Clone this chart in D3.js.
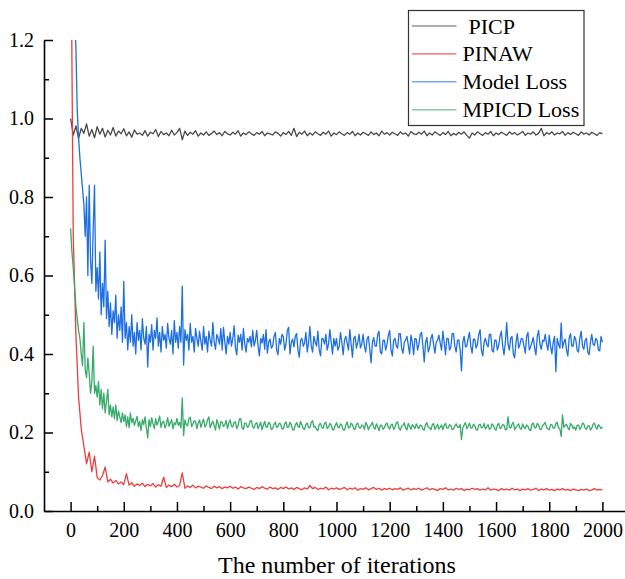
<!DOCTYPE html>
<html lang="en">
  <head>
    <meta charset="utf-8">
    <title>Training curves</title>
    <style>
      body { margin: 0; background: #fff; }
      svg text { font-family: "Liberation Serif", "Times New Roman", serif; }
    </style>
  </head>

  <body>
  <script src="https://d3js.org/d3.v7.min.js"></script>
  <div id="chart"></div>

  <script>

  // PICP and PINAW sampled every 10 iterations, the two losses every 5
  var picpStep = 10, pinawStep = 10, modelStep = 5, mpicdStep = 5;

  var picp = [
    1.000, 0.958, 0.981, 0.949, 0.975, 0.962, 0.986, 0.955, 0.972, 0.951,
    0.979, 0.960, 0.975, 0.953, 0.970, 0.958, 0.977, 0.955, 0.968, 0.961,
    0.974, 0.956, 0.966, 0.952, 0.971, 0.960, 0.963, 0.957, 0.969, 0.955,
    0.965, 0.961, 0.972, 0.954, 0.967, 0.959, 0.963, 0.956, 0.970, 0.958,
    0.964, 0.975, 0.946, 0.968, 0.957, 0.965, 0.960, 0.969, 0.955, 0.963,
    0.958, 0.966, 0.957, 0.962, 0.968, 0.959, 0.964, 0.956, 0.967, 0.961,
    0.958, 0.965, 0.960, 0.969, 0.955, 0.963, 0.959, 0.966, 0.961, 0.957,
    0.964, 0.960, 0.967, 0.956, 0.963, 0.961, 0.958, 0.966, 0.962, 0.955,
    0.964, 0.959, 0.967, 0.957, 0.975, 0.954, 0.965, 0.960, 0.968, 0.956,
    0.963, 0.958, 0.966, 0.961, 0.957, 0.965, 0.960, 0.968, 0.955, 0.963,
    0.959, 0.966, 0.961, 0.957, 0.964, 0.960, 0.967, 0.956, 0.963, 0.958,
    0.965, 0.961, 0.957, 0.966, 0.959, 0.963, 0.956, 0.968, 0.960, 0.964,
    0.958, 0.965, 0.961, 0.957, 0.966, 0.960, 0.963, 0.955, 0.967, 0.961,
    0.959, 0.965, 0.960, 0.968, 0.956, 0.963, 0.958, 0.966, 0.961, 0.957,
    0.964, 0.959, 0.967, 0.956, 0.962, 0.958, 0.965, 0.960, 0.966, 0.957,
    0.950, 0.963, 0.958, 0.966, 0.961, 0.957, 0.964, 0.960, 0.967, 0.956,
    0.963, 0.959, 0.965, 0.961, 0.957, 0.966, 0.960, 0.964, 0.958, 0.962,
    0.967, 0.957, 0.963, 0.960, 0.966, 0.958, 0.962, 0.975, 0.956, 0.964,
    0.960, 0.966, 0.958, 0.963, 0.961, 0.967, 0.957, 0.964, 0.959, 0.965,
    0.961, 0.957, 0.966, 0.960, 0.963, 0.958, 0.965, 0.961, 0.957, 0.964,
    0.961
  ];

  var pinaw = [
    1.600, 0.700, 0.450, 0.290, 0.210, 0.165, 0.120, 0.150, 0.100, 0.140,
    0.085, 0.079, 0.090, 0.112, 0.074, 0.081, 0.071, 0.078, 0.069, 0.074,
    0.067, 0.095, 0.066, 0.072, 0.063, 0.069, 0.065, 0.071, 0.062, 0.068,
    0.064, 0.070, 0.061, 0.067, 0.063, 0.086, 0.060, 0.066, 0.062, 0.068,
    0.061, 0.065, 0.097, 0.058, 0.064, 0.060, 0.066, 0.059, 0.063, 0.061,
    0.058, 0.064, 0.060, 0.057, 0.063, 0.059, 0.062, 0.057, 0.061, 0.059,
    0.063, 0.058, 0.061, 0.056, 0.062, 0.059, 0.057, 0.061, 0.058, 0.055,
    0.060, 0.057, 0.062, 0.058, 0.056, 0.061, 0.057, 0.059, 0.055, 0.060,
    0.057, 0.061, 0.056, 0.059, 0.055, 0.060, 0.057, 0.054, 0.059, 0.056,
    0.065, 0.057, 0.060, 0.055, 0.058, 0.056, 0.061, 0.054, 0.058, 0.056,
    0.059, 0.055, 0.057, 0.060, 0.054, 0.058, 0.056, 0.059, 0.053, 0.057,
    0.055, 0.059, 0.054, 0.057, 0.060, 0.055, 0.058, 0.053, 0.057, 0.055,
    0.058, 0.054, 0.057, 0.055, 0.059, 0.053, 0.056, 0.058, 0.054, 0.057,
    0.055, 0.058, 0.053, 0.056, 0.059, 0.054, 0.057, 0.055, 0.052, 0.057,
    0.055, 0.059, 0.054, 0.056, 0.053, 0.058, 0.055, 0.057, 0.052, 0.056,
    0.054, 0.058, 0.055, 0.057, 0.053, 0.056, 0.054, 0.059, 0.053, 0.056,
    0.055, 0.052, 0.057, 0.054, 0.056, 0.053, 0.058, 0.054, 0.056, 0.052,
    0.056, 0.054, 0.057, 0.053, 0.055, 0.058, 0.052, 0.056, 0.054, 0.057,
    0.053, 0.055, 0.052, 0.056, 0.054, 0.057, 0.053, 0.055, 0.052, 0.056,
    0.054, 0.052, 0.055, 0.053, 0.056, 0.052, 0.054, 0.057, 0.053, 0.055,
    0.054
  ];

  // one row = 100 iterations
  var modelLoss = [
    1.600, 1.450, 1.300, 1.250, 1.180, 1.020, 0.950, 0.900, 0.860, 0.820, 0.780, 0.700, 0.800, 0.600, 0.830, 0.640, 0.580, 0.720, 0.830, 0.560,
    0.620, 0.540, 0.660, 0.500, 0.580, 0.520, 0.690, 0.490, 0.560, 0.470, 0.530, 0.450, 0.510, 0.480, 0.550, 0.440, 0.500, 0.460, 0.520, 0.430,
    0.585, 0.440, 0.480, 0.410, 0.470, 0.430, 0.500, 0.420, 0.455, 0.400, 0.480, 0.435, 0.460, 0.410, 0.490, 0.440, 0.425, 0.470, 0.367, 0.450,
    0.430, 0.475, 0.410, 0.460, 0.440, 0.492, 0.420, 0.455, 0.405, 0.470, 0.435, 0.450, 0.415, 0.478, 0.440, 0.425, 0.460, 0.400, 0.485, 0.430,
    0.455, 0.415, 0.470, 0.430, 0.573, 0.372, 0.462, 0.435, 0.450, 0.410, 0.478, 0.430, 0.445, 0.405, 0.465, 0.440, 0.420, 0.458, 0.432, 0.410,
    0.470, 0.425, 0.445, 0.405, 0.458, 0.435, 0.420, 0.480, 0.430, 0.412, 0.450, 0.440, 0.425, 0.465, 0.410, 0.468, 0.430, 0.400, 0.445, 0.425,
    0.455, 0.420, 0.440, 0.472, 0.415, 0.398, 0.448, 0.430, 0.450, 0.410, 0.465, 0.425, 0.405, 0.440, 0.430, 0.445, 0.418, 0.460, 0.420, 0.435,
    0.460, 0.420, 0.395, 0.440, 0.428, 0.450, 0.412, 0.462, 0.402, 0.430, 0.438, 0.415, 0.420, 0.445, 0.455, 0.410, 0.398, 0.440, 0.425, 0.450,
    0.445, 0.410, 0.425, 0.460, 0.468, 0.400, 0.430, 0.438, 0.418, 0.445, 0.452, 0.410, 0.392, 0.435, 0.440, 0.420, 0.428, 0.455, 0.405, 0.430,
    0.470, 0.420, 0.405, 0.445, 0.430, 0.420, 0.458, 0.410, 0.395, 0.440, 0.438, 0.425, 0.450, 0.410, 0.425, 0.462, 0.430, 0.400, 0.440, 0.420,
    0.440, 0.410, 0.418, 0.455, 0.430, 0.398, 0.435, 0.445, 0.428, 0.410, 0.462, 0.425, 0.392, 0.440, 0.445, 0.415, 0.430, 0.450, 0.415, 0.425,
    0.450, 0.420, 0.405, 0.438, 0.445, 0.412, 0.378, 0.430, 0.442, 0.420, 0.420, 0.450, 0.458, 0.405, 0.400, 0.435, 0.435, 0.410, 0.425, 0.448,
    0.460, 0.410, 0.395, 0.435, 0.440, 0.420, 0.415, 0.452, 0.452, 0.415, 0.402, 0.430, 0.436, 0.445, 0.422, 0.400, 0.448, 0.430, 0.398, 0.440,
    0.438, 0.410, 0.425, 0.450, 0.455, 0.420, 0.380, 0.430, 0.442, 0.405, 0.415, 0.440, 0.450, 0.425, 0.402, 0.430, 0.435, 0.448, 0.428, 0.410,
    0.458, 0.430, 0.398, 0.440, 0.440, 0.410, 0.418, 0.452, 0.452, 0.420, 0.405, 0.435, 0.436, 0.410, 0.357, 0.430, 0.445, 0.418, 0.420, 0.440,
    0.455, 0.420, 0.402, 0.438, 0.438, 0.415, 0.425, 0.450, 0.462, 0.410, 0.395, 0.430, 0.440, 0.425, 0.418, 0.450, 0.450, 0.410, 0.405, 0.435,
    0.435, 0.410, 0.422, 0.445, 0.458, 0.420, 0.398, 0.430, 0.480, 0.425, 0.410, 0.440, 0.445, 0.400, 0.390, 0.430, 0.452, 0.415, 0.425, 0.440,
    0.438, 0.420, 0.402, 0.445, 0.455, 0.410, 0.418, 0.430, 0.442, 0.415, 0.398, 0.445, 0.460, 0.425, 0.412, 0.435, 0.432, 0.450, 0.425, 0.410,
    0.448, 0.420, 0.400, 0.430, 0.445, 0.355, 0.440, 0.425, 0.415, 0.479, 0.415, 0.430, 0.438, 0.410, 0.395, 0.440, 0.452, 0.420, 0.420, 0.445,
    0.436, 0.410, 0.405, 0.440, 0.458, 0.420, 0.412, 0.435, 0.440, 0.405, 0.398, 0.430, 0.450, 0.425, 0.422, 0.440, 0.435, 0.410, 0.408, 0.445,
    0.430
  ];

  var mpicdLoss = [
    0.720, 0.660, 0.620, 0.570, 0.520, 0.490, 0.460, 0.440, 0.400, 0.370, 0.480, 0.360, 0.340, 0.390, 0.350, 0.300, 0.330, 0.420, 0.300, 0.320,
    0.290, 0.330, 0.270, 0.310, 0.260, 0.300, 0.250, 0.280, 0.310, 0.245, 0.270, 0.240, 0.265, 0.235, 0.270, 0.230, 0.255, 0.240, 0.225, 0.250,
    0.228, 0.245, 0.215, 0.240, 0.212, 0.250, 0.225, 0.236, 0.218, 0.230, 0.241, 0.215, 0.228, 0.205, 0.233, 0.220, 0.240, 0.212, 0.186, 0.233,
    0.215, 0.238, 0.222, 0.210, 0.235, 0.219, 0.228, 0.242, 0.213, 0.226, 0.229, 0.212, 0.220, 0.238, 0.216, 0.224, 0.233, 0.209, 0.225, 0.220,
    0.236, 0.218, 0.226, 0.212, 0.288, 0.192, 0.232, 0.220, 0.217, 0.236, 0.239, 0.215, 0.221, 0.230, 0.228, 0.210, 0.224, 0.232, 0.213, 0.225,
    0.234, 0.214, 0.219, 0.232, 0.240, 0.212, 0.222, 0.229, 0.218, 0.206, 0.233, 0.222, 0.209, 0.228, 0.226, 0.215, 0.220, 0.231, 0.210, 0.224,
    0.232, 0.216, 0.214, 0.226, 0.227, 0.210, 0.218, 0.235, 0.235, 0.212, 0.208, 0.224, 0.224, 0.213, 0.216, 0.229, 0.230, 0.214, 0.211, 0.222,
    0.225, 0.210, 0.217, 0.226, 0.207, 0.219, 0.228, 0.214, 0.214, 0.226, 0.222, 0.208, 0.210, 0.221, 0.226, 0.213, 0.216, 0.224, 0.221, 0.209,
    0.209, 0.222, 0.227, 0.213, 0.214, 0.226, 0.220, 0.207, 0.206, 0.219, 0.225, 0.216, 0.213, 0.228, 0.219, 0.210, 0.208, 0.221, 0.224, 0.212,
    0.212, 0.226, 0.230, 0.214, 0.216, 0.208, 0.205, 0.221, 0.223, 0.213, 0.211, 0.224, 0.226, 0.210, 0.214, 0.223, 0.219, 0.207, 0.207, 0.218,
    0.225, 0.214, 0.212, 0.222, 0.218, 0.207, 0.206, 0.219, 0.227, 0.212, 0.213, 0.224, 0.220, 0.209, 0.208, 0.221, 0.224, 0.213, 0.211, 0.219,
    0.217, 0.208, 0.226, 0.219, 0.207, 0.215, 0.219, 0.226, 0.213, 0.209, 0.222, 0.214, 0.205, 0.219, 0.218, 0.208, 0.212, 0.221, 0.224, 0.213,
    0.209, 0.219, 0.221, 0.208, 0.214, 0.225, 0.227, 0.212, 0.206, 0.216, 0.218, 0.225, 0.211, 0.207, 0.223, 0.216, 0.208, 0.220, 0.216, 0.210,
    0.222, 0.214, 0.210, 0.219, 0.217, 0.208, 0.206, 0.220, 0.225, 0.214, 0.212, 0.207, 0.219, 0.223, 0.208, 0.214, 0.221, 0.209, 0.213, 0.219,
    0.207, 0.218, 0.223, 0.211, 0.211, 0.220, 0.218, 0.207, 0.209, 0.216, 0.222, 0.214, 0.213, 0.220, 0.182, 0.212, 0.219, 0.225, 0.210, 0.215,
    0.224, 0.211, 0.212, 0.221, 0.217, 0.207, 0.206, 0.219, 0.221, 0.212, 0.213, 0.223, 0.209, 0.214, 0.220, 0.208, 0.211, 0.222, 0.218, 0.209,
    0.206, 0.219, 0.223, 0.210, 0.212, 0.220, 0.219, 0.207, 0.208, 0.240, 0.214, 0.211, 0.221, 0.226, 0.207, 0.213, 0.217, 0.222, 0.211, 0.208,
    0.222, 0.213, 0.210, 0.219, 0.216, 0.207, 0.205, 0.221, 0.224, 0.212, 0.212, 0.223, 0.219, 0.208, 0.208, 0.218, 0.221, 0.226, 0.213, 0.209,
    0.207, 0.220, 0.220, 0.211, 0.211, 0.223, 0.226, 0.212, 0.209, 0.190, 0.245, 0.213, 0.218, 0.221, 0.212, 0.207, 0.223, 0.219, 0.210, 0.214,
    0.206, 0.218, 0.219, 0.208, 0.213, 0.224, 0.222, 0.211, 0.208, 0.217, 0.217, 0.206, 0.211, 0.221, 0.224, 0.213, 0.209, 0.220, 0.216, 0.210,
    0.214
  ];

  var seriesNames = ["PICP", "PINAW", "Model Loss", "MPICD Loss"];
  var seriesColors = ["#4a4a4a", "#f03c3c", "#1e6fe0", "#36ab6a"];
  var xTicks = [0, 200, 400, 600, 800, 1000, 1200, 1400, 1600, 1800, 2000];
  var yTicks = [0, 0.2, 0.4, 0.6, 0.8, 1.0, 1.2];

  var raw = [
    [picp, picpStep], [pinaw, pinawStep], [modelLoss, modelStep], [mpicdLoss, mpicdStep]
  ];
  var series = raw.map(function(r, k) {
    return {
      name: seriesNames[k],
      color: seriesColors[k],
      values: r[0].map(function(v, i) { return {it: i * r[1], v: v}; })
    };
  });

  var width = 625, height = 579;
  var svg = d3.select("#chart")
    .append("svg")
      .attr("width", width)
      .attr("height", height);

  var x = d3.scaleLinear().domain([-100, 2100]).range([44, 629]);
  var y = d3.scaleLinear().domain([0, 1.2]).range([511, 40]);

  svg.append("clipPath")
      .attr("id", "plot-clip")
    .append("rect")
      .attr("x", 44)
      .attr("y", 40)
      .attr("width", 585)
      .attr("height", 471);

  var line = d3.line()
    .x(function(d) { return x(d.it); })
    .y(function(d) { return y(d.v); });

  svg.append("g")
      .attr("clip-path", "url(#plot-clip)")
    .selectAll("path")
    .data(series)
    .enter()
    .append("path")
      .attr("d", function(d) { return line(d.values); })
      .attr("fill", "none")
      .attr("stroke", function(d) { return d.color; })
      .attr("stroke-width", 1.3)
      .attr("stroke-linejoin", "round");

  // minor ticks first, majors drawn on top
  var xMinor = d3.range(100, 2100, 200);
  var yMinor = [0.1, 0.3, 0.5, 0.7, 0.9, 1.1];

  svg.append("g")
      .attr("transform", "translate(0,511)")
      .call(d3.axisBottom(x).tickValues(xMinor).tickSize(-5).tickFormat(""))
      .call(function(g) { g.select(".domain").remove(); });

  svg.append("g")
      .attr("transform", "translate(44,0)")
      .call(d3.axisLeft(y).tickValues(yMinor).tickSize(-5).tickFormat(""))
      .call(function(g) { g.select(".domain").remove(); });

  svg.append("g")
      .attr("transform", "translate(0,511)")
      .call(d3.axisBottom(x).tickValues(xTicks).tickSize(-9).tickSizeOuter(0).tickPadding(12).tickFormat(d3.format("d")));

  svg.append("g")
      .attr("transform", "translate(44,0)")
      .call(d3.axisLeft(y).tickValues(yTicks).tickSize(-9).tickSizeOuter(0).tickPadding(10).tickFormat(d3.format(".1f")));

  svg.selectAll(".tick line").attr("stroke", "#000").attr("stroke-width", 1.5);
  svg.selectAll(".domain").attr("stroke", "#000").attr("stroke-width", 1.6);
  svg.selectAll(".tick text")
    .style("font-family", "'Liberation Serif', 'Times New Roman', serif")
    .style("font-size", "20px")
    .attr("fill", "#000");

  svg.append("text")
      .attr("x", 337)
      .attr("y", 573)
      .attr("text-anchor", "middle")
      .style("font-size", "24px")
      .attr("fill", "#000")
      .text("The number of iterations");

  // legend
  var legend = svg.append("g");
  legend.append("rect")
      .attr("x", 408.5)
      .attr("y", 10.5)
      .attr("width", 175.5)
      .attr("height", 115)
      .attr("fill", "#fff")
      .attr("stroke", "#333")
      .attr("stroke-width", 1.2);

  var rows = legend.selectAll("g.row")
    .data(series)
    .enter()
    .append("g")
      .attr("class", "row")
      .attr("transform", function(d, i) { return "translate(0," + (26 + i * 27.9) + ")"; });

  rows.append("line")
      .attr("x1", 412)
      .attr("x2", 456.5)
      .attr("stroke", function(d) { return d.color; })
      .attr("stroke-opacity", 0.6)
      .attr("stroke-width", 1.6);

  rows.append("text")
      .attr("x", function(d, i) { return i == 0 ? 468.5 : 462.5; })
      .attr("y", 7.5)
      .style("font-size", "22px")
      .attr("fill", "#000")
      .text(function(d) { return d.name; });

  </script>

</body>

</html>
